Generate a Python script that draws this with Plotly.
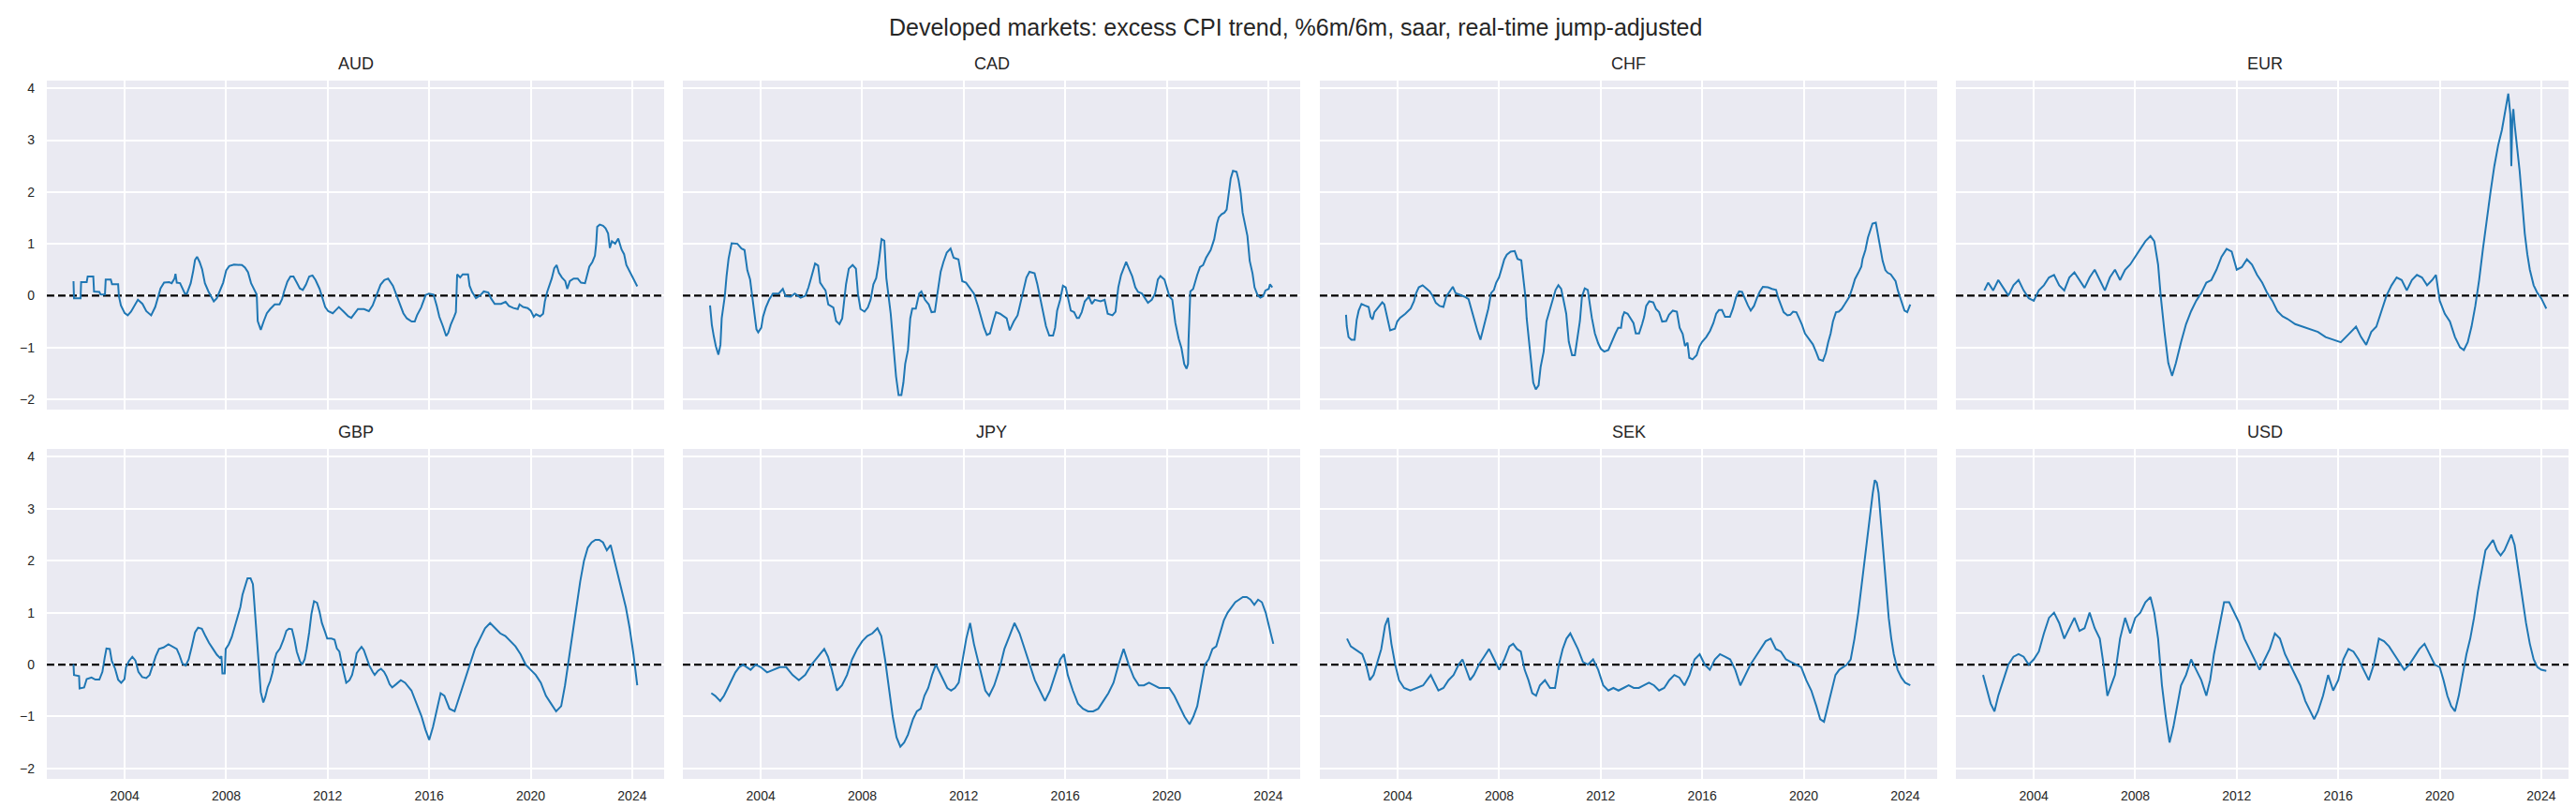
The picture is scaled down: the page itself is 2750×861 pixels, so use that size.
import numpy as np
import pandas as pd
import plotly.graph_objects as go

TITLE = "Developed markets: excess CPI trend, %6m/6m, saar, real-time jump-adjusted"
CURRENCIES = ["AUD", "CAD", "CHF", "EUR", "GBP", "JPY", "SEK", "USD"]

AUD_t = [2001.98, 2002.0, 2002.26, 2002.28, 2002.5, 2002.54, 2002.76, 2002.79, 2003.0, 2003.05, 2003.22, 2003.25, 2003.45, 2003.5, 2003.74, 2003.77,
         2003.85, 2004.0, 2004.12, 2004.25, 2004.52, 2004.7, 2004.85, 2005.04, 2005.2, 2005.33, 2005.41, 2005.55, 2005.75, 2005.85, 2005.96, 2006.0, 2006.05,
         2006.18, 2006.37, 2006.45, 2006.6, 2006.7, 2006.77, 2006.85, 2006.95, 2007.05, 2007.16, 2007.3, 2007.4, 2007.51, 2007.63, 2007.75, 2007.88,
         2008.0, 2008.12, 2008.31, 2008.5, 2008.62, 2008.74, 2008.86, 2008.98, 2009.08, 2009.2, 2009.24, 2009.36, 2009.48, 2009.6, 2009.73, 2009.91,
         2010.1, 2010.2, 2010.28, 2010.41, 2010.53, 2010.65, 2010.78, 2010.9, 2011.02, 2011.14, 2011.27, 2011.4, 2011.52, 2011.68, 2011.77, 2011.9,
         2012.02, 2012.2, 2012.32, 2012.44, 2012.63, 2012.81, 2012.93, 2013.05, 2013.19, 2013.43, 2013.62, 2013.77, 2013.93, 2014.08, 2014.23, 2014.38,
         2014.57, 2014.69, 2014.81, 2014.98, 2015.12, 2015.31, 2015.43, 2015.52, 2015.68, 2015.86, 2015.99, 2016.17, 2016.3, 2016.4, 2016.54, 2016.67,
         2016.75, 2016.85, 2016.98, 2017.05, 2017.1, 2017.22, 2017.32, 2017.53, 2017.59, 2017.69, 2017.84, 2018.02, 2018.15, 2018.33, 2018.43, 2018.58,
         2018.83, 2019.01, 2019.14, 2019.32, 2019.49, 2019.56, 2019.7, 2019.88, 2020.0, 2020.12, 2020.21, 2020.37, 2020.49, 2020.56, 2020.65, 2020.74,
         2020.83, 2020.93, 2021.02, 2021.11, 2021.23, 2021.36, 2021.44, 2021.54, 2021.69, 2021.85, 2021.98, 2022.14, 2022.22, 2022.31, 2022.43, 2022.53,
         2022.58, 2022.62, 2022.72, 2022.85, 2022.95, 2023.05, 2023.12, 2023.2, 2023.33, 2023.45, 2023.58, 2023.68, 2023.77, 2023.86, 2023.95, 2024.08, 2024.2]
AUD_v = [0.28, -0.05, -0.05, 0.26, 0.26, 0.37, 0.37, 0.08, 0.07, 0.02, 0.02, 0.31, 0.31, 0.22, 0.22, -0.01,
         -0.19, -0.34, -0.38, -0.31, -0.08, -0.16, -0.3, -0.38, -0.22, -0.01, 0.14, 0.25, 0.26, 0.24, 0.33, 0.42, 0.25,
         0.24, 0.04, 0.04, 0.24, 0.48, 0.69, 0.75, 0.65, 0.51, 0.24, 0.08, -0.02, -0.11, -0.05, 0.08, 0.25,
         0.49, 0.57, 0.6, 0.59, 0.59, 0.54, 0.45, 0.24, 0.14, 0.02, -0.49, -0.66, -0.49, -0.34, -0.26, -0.17,
         -0.17, -0.07, 0.08, 0.27, 0.37, 0.37, 0.25, 0.14, 0.11, 0.21, 0.37, 0.39, 0.3, 0.13, -0.01, -0.22,
         -0.3, -0.34, -0.28, -0.22, -0.31, -0.4, -0.43, -0.34, -0.26, -0.26, -0.3, -0.19, 0.02, 0.21, 0.3, 0.33,
         0.19, 0.04, -0.11, -0.34, -0.44, -0.5, -0.5, -0.38, -0.23, 0.01, 0.04, 0.02, -0.2, -0.41, -0.59, -0.78,
         -0.72, -0.56, -0.41, -0.32, 0.41, 0.35, 0.41, 0.41, 0.19, 0.07, -0.05, 0.01, 0.08, 0.06, -0.05, -0.16,
         -0.16, -0.12, -0.2, -0.24, -0.26, -0.17, -0.22, -0.24, -0.29, -0.41, -0.36, -0.4, -0.35, -0.11, 0.07, 0.19,
         0.33, 0.53, 0.59, 0.44, 0.35, 0.28, 0.13, 0.28, 0.33, 0.33, 0.25, 0.24, 0.38, 0.56, 0.65, 0.77,
         1.0, 1.33, 1.37, 1.35, 1.3, 1.2, 0.92, 1.05, 1.0, 1.1, 0.89, 0.8, 0.59, 0.5, 0.41, 0.3, 0.18]

CAD_t = [2002.0, 2002.07, 2002.15, 2002.23, 2002.33, 2002.41, 2002.46, 2002.58, 2002.65, 2002.73, 2002.85, 2003.08, 2003.24, 2003.36, 2003.47,
         2003.58, 2003.66, 2003.74, 2003.83, 2003.9, 2004.02, 2004.09, 2004.2, 2004.33, 2004.48, 2004.71, 2004.87, 2004.98, 2005.18, 2005.34, 2005.57,
         2005.76, 2005.88, 2006.0, 2006.14, 2006.26, 2006.34, 2006.46, 2006.55, 2006.66, 2006.86, 2006.97, 2007.1, 2007.21, 2007.36, 2007.47, 2007.62,
         2007.75, 2007.83, 2007.93, 2008.09, 2008.22, 2008.33, 2008.44, 2008.55, 2008.65, 2008.76, 2008.87, 2008.95, 2009.12, 2009.23, 2009.33, 2009.43,
         2009.54, 2009.62, 2009.69, 2009.8, 2009.89, 2009.97, 2010.11, 2010.24, 2010.33, 2010.47, 2010.62, 2010.73, 2010.86, 2010.98, 2011.09, 2011.2,
         2011.33, 2011.48, 2011.6, 2011.79, 2011.94, 2012.09, 2012.25, 2012.4, 2012.56, 2012.69, 2012.8, 2012.91, 2013.03, 2013.16, 2013.27, 2013.43,
         2013.58, 2013.69, 2013.81, 2013.97, 2014.12, 2014.23, 2014.36, 2014.47, 2014.59, 2014.79, 2014.9, 2015.0, 2015.13, 2015.24, 2015.37, 2015.52,
         2015.6, 2015.68, 2015.8, 2015.91, 2016.02, 2016.12, 2016.22, 2016.35, 2016.46, 2016.54, 2016.65, 2016.77, 2016.93, 2017.05, 2017.16, 2017.39,
         2017.55, 2017.67, 2017.86, 2017.98, 2018.09, 2018.2, 2018.33, 2018.4, 2018.51, 2018.64, 2018.76, 2018.87, 2019.02, 2019.18, 2019.26, 2019.41,
         2019.54, 2019.65, 2019.75, 2019.91, 2020.01, 2020.11, 2020.22, 2020.34, 2020.47, 2020.58, 2020.69, 2020.78, 2020.84, 2020.86, 2020.93, 2021.04,
         2021.2, 2021.31, 2021.43, 2021.55, 2021.73, 2021.87, 2021.98, 2022.05, 2022.16, 2022.27, 2022.36, 2022.44, 2022.52, 2022.61, 2022.75, 2022.83,
         2022.91, 2022.99, 2023.18, 2023.27, 2023.38, 2023.46, 2023.58, 2023.69, 2023.8, 2023.89, 2024.02, 2024.07, 2024.16]
CAD_v = [-0.19, -0.56, -0.79, -0.98, -1.14, -0.95, -0.44, -0.02, 0.37, 0.71, 1.01, 1.0, 0.91, 0.88, 0.49,
         0.31, 0.0, -0.32, -0.65, -0.71, -0.62, -0.41, -0.23, -0.08, 0.04, 0.04, 0.13, -0.01, -0.02, 0.04, -0.04,
         0.0, 0.16, 0.37, 0.62, 0.58, 0.25, 0.16, 0.1, -0.17, -0.23, -0.49, -0.55, -0.44, 0.22, 0.52, 0.59,
         0.52, 0.04, -0.26, -0.31, -0.23, -0.08, 0.22, 0.34, 0.64, 1.09, 1.06, 0.34, -0.35, -0.95, -1.56, -1.92,
         -1.92, -1.68, -1.32, -1.05, -0.44, -0.25, -0.25, 0.04, 0.08, -0.08, -0.17, -0.32, -0.31, 0.1, 0.46, 0.65,
         0.83, 0.91, 0.73, 0.7, 0.28, 0.25, 0.13, 0.04, -0.2, -0.44, -0.62, -0.76, -0.73, -0.5, -0.32, -0.35,
         -0.41, -0.44, -0.67, -0.5, -0.38, -0.14, 0.16, 0.35, 0.46, 0.43, 0.22, -0.02, -0.35, -0.59, -0.77, -0.77,
         -0.62, -0.29, -0.08, 0.19, 0.16, -0.08, -0.29, -0.32, -0.43, -0.43, -0.32, -0.11, -0.02, -0.16, -0.08, -0.11,
         -0.08, -0.35, -0.38, -0.31, 0.16, 0.4, 0.58, 0.65, 0.52, 0.37, 0.16, 0.07, 0.04, -0.08, -0.14, -0.08,
         0.04, 0.31, 0.38, 0.31, 0.16, -0.02, -0.08, -0.53, -0.83, -1.01, -1.32, -1.41, -1.32, -0.86, 0.08, 0.13,
         0.4, 0.55, 0.59, 0.73, 0.88, 1.09, 1.39, 1.51, 1.57, 1.6, 1.66, 2.02, 2.26, 2.41, 2.39, 2.23,
         1.99, 1.6, 1.15, 0.67, 0.43, 0.16, 0.01, -0.04, -0.01, 0.1, 0.13, 0.22, 0.16, 0.01]

CHF_t = [2001.96, 2001.99, 2002.06, 2002.17, 2002.3, 2002.38, 2002.46, 2002.57, 2002.7, 2002.85, 2002.93, 2003.01, 2003.08, 2003.23, 2003.39, 2003.47,
         2003.58, 2003.7, 2003.89, 2003.98, 2004.09, 2004.3, 2004.51, 2004.64, 2004.72, 2004.83, 2004.98, 2005.14, 2005.26, 2005.39, 2005.5, 2005.65,
         2005.8, 2005.91, 2006.04, 2006.17, 2006.28, 2006.43, 2006.63, 2006.79, 2006.9, 2007.01, 2007.14, 2007.26, 2007.37, 2007.45, 2007.57, 2007.68,
         2007.79, 2007.88, 2007.99, 2008.1, 2008.2, 2008.3, 2008.45, 2008.61, 2008.72, 2008.87, 2008.95, 2009.03, 2009.08, 2009.16, 2009.26, 2009.34,
         2009.44, 2009.55, 2009.63, 2009.75, 2009.86, 2009.97, 2010.1, 2010.22, 2010.33, 2010.44, 2010.53, 2010.64, 2010.74, 2010.87, 2010.98, 2011.1,
         2011.18, 2011.26, 2011.37, 2011.49, 2011.57, 2011.65, 2011.77, 2011.9, 2012.01, 2012.14, 2012.3, 2012.45, 2012.58, 2012.69, 2012.8, 2012.86,
         2012.93, 2013.06, 2013.18, 2013.29, 2013.38, 2013.51, 2013.63, 2013.71, 2013.79, 2013.91, 2014.07, 2014.18, 2014.3, 2014.42, 2014.58, 2014.69,
         2014.84, 2015.0, 2015.11, 2015.23, 2015.32, 2015.42, 2015.49, 2015.62, 2015.78, 2015.89, 2016.0, 2016.16, 2016.31, 2016.44, 2016.55, 2016.66,
         2016.78, 2016.9, 2017.09, 2017.21, 2017.34, 2017.45, 2017.57, 2017.69, 2017.8, 2017.91, 2018.04, 2018.16, 2018.27, 2018.39, 2018.59, 2018.75,
         2018.91, 2019.0, 2019.1, 2019.21, 2019.36, 2019.47, 2019.58, 2019.71, 2019.82, 2019.93, 2020.05, 2020.2, 2020.36, 2020.49, 2020.6, 2020.76,
         2020.87, 2020.96, 2021.06, 2021.15, 2021.27, 2021.38, 2021.49, 2021.61, 2021.8, 2021.91, 2022.02, 2022.15, 2022.27, 2022.32, 2022.43, 2022.53,
         2022.64, 2022.71, 2022.84, 2022.92, 2023.03, 2023.11, 2023.22, 2023.31, 2023.43, 2023.62, 2023.71, 2023.79, 2023.86, 2023.97, 2024.08, 2024.2]
CHF_v = [-0.37, -0.59, -0.8, -0.85, -0.85, -0.47, -0.29, -0.16, -0.19, -0.22, -0.41, -0.46, -0.32, -0.22, -0.13, -0.17,
         -0.43, -0.67, -0.64, -0.5, -0.43, -0.35, -0.25, -0.11, 0.04, 0.16, 0.2, 0.14, 0.08, -0.02, -0.14, -0.2,
         -0.22, -0.02, 0.07, 0.17, 0.05, 0.02, -0.02, -0.07, -0.26, -0.47, -0.68, -0.85, -0.65, -0.5, -0.25, 0.05,
         0.11, 0.25, 0.35, 0.53, 0.7, 0.79, 0.85, 0.86, 0.71, 0.68, 0.37, -0.02, -0.44, -0.85, -1.23, -1.68,
         -1.81, -1.73, -1.38, -1.08, -0.5, -0.32, -0.08, 0.11, 0.2, 0.13, -0.08, -0.35, -0.89, -1.15, -1.15, -0.74,
         -0.49, -0.02, 0.14, 0.11, -0.2, -0.43, -0.73, -0.92, -1.03, -1.08, -1.05, -0.86, -0.73, -0.62, -0.62, -0.41,
         -0.32, -0.35, -0.44, -0.53, -0.73, -0.73, -0.55, -0.41, -0.2, -0.11, -0.13, -0.26, -0.32, -0.5, -0.49, -0.37,
         -0.29, -0.31, -0.62, -0.74, -0.97, -0.91, -1.2, -1.23, -1.15, -0.98, -0.89, -0.8, -0.68, -0.53, -0.35, -0.28,
         -0.28, -0.41, -0.41, -0.25, -0.02, 0.08, 0.07, -0.08, -0.19, -0.29, -0.2, -0.04, 0.08, 0.17, 0.16, 0.13,
         0.11, -0.05, -0.19, -0.32, -0.38, -0.37, -0.31, -0.32, -0.44, -0.56, -0.73, -0.83, -0.94, -1.09, -1.23, -1.26,
         -1.11, -0.91, -0.73, -0.5, -0.32, -0.31, -0.26, -0.17, -0.02, 0.14, 0.32, 0.44, 0.56, 0.71, 0.88, 1.12,
         1.3, 1.39, 1.41, 1.18, 0.88, 0.67, 0.49, 0.44, 0.41, 0.28, 0.1, -0.02, -0.16, -0.29, -0.32, -0.17]

EUR_t = [2002.05, 2002.2, 2002.4, 2002.6, 2002.8, 2003.0, 2003.2, 2003.4, 2003.6, 2003.8, 2004.0, 2004.2, 2004.4, 2004.6, 2004.8, 2005.0, 2005.2,
         2005.4, 2005.6, 2005.8, 2006.0, 2006.2, 2006.4, 2006.6, 2006.8, 2007.0, 2007.2, 2007.4, 2007.6, 2007.8, 2008.0, 2008.2, 2008.4, 2008.6,
         2008.75, 2008.9, 2009.0, 2009.15, 2009.3, 2009.45, 2009.6, 2009.8, 2010.0, 2010.2, 2010.4, 2010.6, 2010.8, 2011.0, 2011.2, 2011.4, 2011.6,
         2011.8, 2012.0, 2012.2, 2012.4, 2012.6, 2012.8, 2013.0, 2013.2, 2013.4, 2013.6, 2013.8, 2014.0, 2014.3, 2014.6, 2014.9, 2015.2, 2015.5,
         2015.8, 2016.1, 2016.4, 2016.7, 2016.9, 2017.1, 2017.3, 2017.5, 2017.7, 2017.9, 2018.1, 2018.3, 2018.5, 2018.7, 2018.9, 2019.1, 2019.3,
         2019.5, 2019.7, 2019.85, 2020.0, 2020.2, 2020.4, 2020.6, 2020.8, 2020.95, 2021.1, 2021.25, 2021.4, 2021.55, 2021.7, 2021.85, 2022.0, 2022.15,
         2022.3, 2022.45, 2022.6, 2022.7, 2022.78, 2022.82, 2022.86, 2022.9, 2022.95, 2023.05, 2023.15, 2023.25, 2023.35, 2023.45, 2023.55, 2023.7,
         2023.85, 2024.0, 2024.2]
EUR_v = [0.1, 0.25, 0.1, 0.3, 0.15, 0.0, 0.2, 0.3, 0.1, -0.05, -0.1, 0.1, 0.2, 0.35, 0.4, 0.2, 0.1,
         0.35, 0.45, 0.3, 0.15, 0.35, 0.5, 0.3, 0.1, 0.35, 0.5, 0.3, 0.5, 0.6, 0.75, 0.9, 1.05, 1.15,
         1.05, 0.6, 0.0, -0.7, -1.3, -1.55, -1.3, -0.9, -0.55, -0.3, -0.1, 0.05, 0.25, 0.3, 0.5, 0.75, 0.9,
         0.85, 0.5, 0.55, 0.7, 0.6, 0.4, 0.25, 0.05, -0.1, -0.3, -0.4, -0.45, -0.55, -0.6, -0.65, -0.7, -0.8,
         -0.85, -0.9, -0.75, -0.6, -0.8, -0.95, -0.7, -0.6, -0.3, 0.0, 0.2, 0.35, 0.3, 0.1, 0.3, 0.4, 0.35,
         0.2, 0.3, 0.4, -0.1, -0.35, -0.5, -0.8, -1.0, -1.05, -0.9, -0.6, -0.2, 0.3, 0.9, 1.5, 2.0, 2.5,
         2.9, 3.2, 3.6, 3.9, 3.5, 2.5, 3.4, 3.6, 3.3, 2.9, 2.4, 1.8, 1.2, 0.8, 0.5, 0.2,
         0.05, -0.05, -0.25]

GBP_t = [2001.98, 2002.0, 2002.2, 2002.22, 2002.4, 2002.5, 2002.69, 2002.84, 2003.0, 2003.12, 2003.21, 2003.28, 2003.41, 2003.49, 2003.62, 2003.74,
         2003.86, 2003.99, 2004.05, 2004.17, 2004.3, 2004.42, 2004.54, 2004.69, 2004.85, 2004.98, 2005.1, 2005.22, 2005.35, 2005.53, 2005.72, 2005.9,
         2006.05, 2006.15, 2006.27, 2006.4, 2006.52, 2006.64, 2006.77, 2006.89, 2007.04, 2007.16, 2007.32, 2007.48, 2007.63, 2007.75, 2007.81, 2007.85,
         2007.94, 2007.98, 2008.1, 2008.22, 2008.35, 2008.47, 2008.56, 2008.64, 2008.74, 2008.84, 2008.96, 2009.05, 2009.11, 2009.17, 2009.23, 2009.3,
         2009.36, 2009.46, 2009.54, 2009.63, 2009.73, 2009.83, 2009.91, 2009.98, 2010.12, 2010.25, 2010.37, 2010.47, 2010.59, 2010.69, 2010.78, 2010.9,
         2010.99, 2011.09, 2011.17, 2011.27, 2011.36, 2011.46, 2011.58, 2011.68, 2011.77, 2011.9, 2011.98, 2012.15, 2012.27, 2012.36, 2012.46, 2012.56,
         2012.64, 2012.73, 2012.86, 2012.96, 2013.06, 2013.14, 2013.23, 2013.33, 2013.42, 2013.55, 2013.64, 2013.77, 2013.85, 2013.98, 2014.1, 2014.22,
         2014.32, 2014.44, 2014.54, 2014.69, 2014.88, 2015.05, 2015.3, 2015.5, 2015.7, 2015.85, 2016.0, 2016.15, 2016.3, 2016.45, 2016.6, 2016.8,
         2017.0, 2017.2, 2017.4, 2017.6, 2017.8, 2018.0, 2018.2, 2018.4, 2018.6, 2018.8, 2019.0, 2019.2, 2019.4, 2019.6, 2019.8, 2020.0, 2020.2,
         2020.4, 2020.6, 2020.8, 2021.0, 2021.2, 2021.35, 2021.5, 2021.65, 2021.8, 2021.95, 2022.1, 2022.25, 2022.4, 2022.55, 2022.7, 2022.85,
         2023.0, 2023.15, 2023.3, 2023.45, 2023.6, 2023.75, 2023.9, 2024.05, 2024.2]
GBP_v = [0.01, -0.2, -0.22, -0.46, -0.44, -0.28, -0.25, -0.29, -0.29, -0.14, 0.13, 0.31, 0.3, 0.07, -0.08, -0.29,
         -0.35, -0.28, -0.05, 0.07, 0.15, 0.08, -0.14, -0.24, -0.26, -0.2, -0.02, 0.16, 0.3, 0.33, 0.39, 0.34,
         0.3, 0.19, 0.02, -0.02, 0.1, 0.34, 0.62, 0.71, 0.69, 0.57, 0.42, 0.3, 0.19, 0.13, 0.16, -0.17,
         -0.17, 0.3, 0.39, 0.53, 0.77, 0.94, 1.11, 1.34, 1.52, 1.66, 1.66, 1.55, 1.16, 0.71, 0.31, -0.2,
         -0.53, -0.73, -0.62, -0.44, -0.32, -0.14, 0.1, 0.22, 0.31, 0.47, 0.65, 0.69, 0.68, 0.48, 0.25, 0.07,
         0.0, 0.1, 0.3, 0.62, 0.98, 1.22, 1.19, 1.01, 0.8, 0.62, 0.5, 0.5, 0.48, 0.31, 0.25, 0.01,
         -0.17, -0.35, -0.3, -0.2, 0.01, 0.22, 0.28, 0.34, 0.28, 0.1, -0.02, -0.14, -0.2, -0.12, -0.08, -0.14,
         -0.23, -0.38, -0.44, -0.38, -0.3, -0.35, -0.5, -0.75, -1.0, -1.25, -1.45, -1.2, -0.9, -0.55, -0.6, -0.85,
         -0.9, -0.6, -0.3, 0.0, 0.3, 0.5, 0.7, 0.8, 0.7, 0.6, 0.55, 0.45, 0.35, 0.2, 0.0, -0.1, -0.2,
         -0.35, -0.6, -0.75, -0.9, -0.8, -0.4, 0.1, 0.6, 1.1, 1.6, 2.0, 2.25, 2.35, 2.4, 2.4, 2.35,
         2.2, 2.3, 2.0, 1.7, 1.4, 1.1, 0.7, 0.2, -0.4]

JPY_t = [2002.05, 2002.2, 2002.4, 2002.55, 2002.7, 2002.85, 2003.0, 2003.15, 2003.3, 2003.45, 2003.6, 2003.8, 2004.0, 2004.25, 2004.5, 2004.75,
         2005.0, 2005.25, 2005.5, 2005.75, 2006.0, 2006.25, 2006.5, 2006.65, 2006.8, 2007.0, 2007.2, 2007.4, 2007.6, 2007.8, 2008.0, 2008.2,
         2008.4, 2008.6, 2008.75, 2008.9, 2009.05, 2009.2, 2009.35, 2009.5, 2009.65, 2009.8, 2010.0, 2010.15, 2010.3, 2010.45, 2010.6, 2010.75,
         2010.9, 2011.05, 2011.2, 2011.35, 2011.5, 2011.65, 2011.8, 2011.95, 2012.1, 2012.25, 2012.4, 2012.55, 2012.7, 2012.85, 2013.0, 2013.2,
         2013.4, 2013.6, 2013.8, 2014.0, 2014.2, 2014.4, 2014.6, 2014.8, 2015.0, 2015.2, 2015.4, 2015.6, 2015.8, 2015.95, 2016.1, 2016.3, 2016.5,
         2016.7, 2016.9, 2017.1, 2017.3, 2017.5, 2017.7, 2017.9, 2018.1, 2018.3, 2018.5, 2018.7, 2018.9, 2019.1, 2019.3, 2019.5, 2019.7, 2019.9,
         2020.1, 2020.3, 2020.5, 2020.7, 2020.9, 2021.05, 2021.2, 2021.35, 2021.5, 2021.65, 2021.8, 2021.95, 2022.1, 2022.25, 2022.4, 2022.55,
         2022.7, 2022.85, 2023.0, 2023.15, 2023.3, 2023.45, 2023.6, 2023.75, 2023.9, 2024.05, 2024.2]
JPY_v = [-0.55, -0.6, -0.7, -0.6, -0.45, -0.3, -0.15, -0.05, 0.0, -0.05, -0.1, 0.0, -0.05, -0.15, -0.1, -0.05,
         -0.05, -0.2, -0.3, -0.2, 0.0, 0.15, 0.3, 0.15, -0.1, -0.5, -0.4, -0.2, 0.1, 0.3, 0.45, 0.55,
         0.6, 0.7, 0.55, 0.1, -0.5, -1.0, -1.4, -1.58, -1.5, -1.35, -1.05, -0.9, -0.85, -0.6, -0.45, -0.2,
         0.0, -0.15, -0.3, -0.45, -0.5, -0.45, -0.35, 0.1, 0.5, 0.8, 0.4, 0.1, -0.2, -0.5, -0.6, -0.4,
         -0.1, 0.3, 0.55, 0.8, 0.6, 0.3, 0.0, -0.3, -0.5, -0.7, -0.5, -0.2, 0.1, 0.2, -0.2, -0.5, -0.75,
         -0.85, -0.9, -0.9, -0.85, -0.7, -0.55, -0.35, 0.0, 0.3, 0.0, -0.25, -0.4, -0.4, -0.35, -0.4, -0.45, -0.45,
         -0.45, -0.6, -0.8, -1.0, -1.15, -1.0, -0.8, -0.4, 0.0, 0.1, 0.3, 0.35, 0.6, 0.85, 1.0, 1.1,
         1.2, 1.25, 1.3, 1.3, 1.25, 1.15, 1.25, 1.2, 1.0, 0.7, 0.4]

SEK_t = [2002.0, 2002.15, 2002.3, 2002.45, 2002.6, 2002.75, 2002.9, 2003.05, 2003.2, 2003.35, 2003.5, 2003.62, 2003.75, 2003.9, 2004.05, 2004.25,
         2004.5, 2004.75, 2005.0, 2005.15, 2005.3, 2005.45, 2005.6, 2005.8, 2006.0, 2006.2, 2006.4, 2006.55, 2006.7, 2006.85, 2007.0, 2007.2,
         2007.4, 2007.6, 2007.8, 2008.0, 2008.2, 2008.4, 2008.55, 2008.7, 2008.85, 2009.0, 2009.15, 2009.3, 2009.45, 2009.6, 2009.8, 2010.0,
         2010.2, 2010.35, 2010.5, 2010.65, 2010.8, 2010.95, 2011.1, 2011.3, 2011.5, 2011.7, 2011.9, 2012.1, 2012.3, 2012.5, 2012.7, 2012.9, 2013.1,
         2013.3, 2013.5, 2013.7, 2013.9, 2014.1, 2014.3, 2014.5, 2014.7, 2014.9, 2015.1, 2015.3, 2015.5, 2015.7, 2015.9, 2016.1, 2016.3, 2016.5,
         2016.7, 2016.9, 2017.1, 2017.3, 2017.5, 2017.7, 2017.9, 2018.1, 2018.3, 2018.5, 2018.7, 2018.9, 2019.1, 2019.3, 2019.5, 2019.7, 2019.9,
         2020.1, 2020.3, 2020.5, 2020.65, 2020.8, 2020.95, 2021.1, 2021.25, 2021.4, 2021.55, 2021.7, 2021.85, 2022.0, 2022.15, 2022.3, 2022.45,
         2022.6, 2022.72, 2022.8, 2022.88, 2022.95, 2023.05, 2023.15, 2023.25, 2023.35, 2023.45, 2023.55, 2023.7, 2023.85, 2024.0, 2024.2]
SEK_v = [0.5, 0.35, 0.3, 0.25, 0.2, 0.0, -0.3, -0.2, 0.05, 0.3, 0.75, 0.9, 0.4, 0.0, -0.3, -0.45,
         -0.5, -0.45, -0.4, -0.3, -0.2, -0.35, -0.5, -0.45, -0.3, -0.2, 0.0, 0.1, -0.1, -0.3, -0.2, 0.0,
         0.15, 0.3, 0.1, -0.1, 0.1, 0.35, 0.4, 0.3, 0.25, -0.1, -0.3, -0.55, -0.6, -0.4, -0.3, -0.45,
         -0.45, 0.0, 0.3, 0.5, 0.6, 0.45, 0.3, 0.05, 0.0, 0.1, -0.1, -0.4, -0.5, -0.45, -0.5, -0.45, -0.4,
         -0.45, -0.45, -0.4, -0.35, -0.4, -0.5, -0.45, -0.3, -0.2, -0.25, -0.4, -0.2, 0.1, 0.2, 0.0, -0.1, 0.1,
         0.2, 0.15, 0.1, -0.1, -0.4, -0.2, 0.0, 0.15, 0.3, 0.45, 0.5, 0.3, 0.25, 0.1, 0.05, 0.0, -0.05,
         -0.3, -0.5, -0.8, -1.05, -1.1, -0.8, -0.5, -0.2, -0.1, -0.05, 0.0, 0.1, 0.5, 1.0, 1.6, 2.2,
         2.9, 3.3, 3.55, 3.5, 3.3, 2.7, 2.0, 1.4, 0.9, 0.5, 0.2, -0.1, -0.25, -0.35, -0.4]

USD_t = [2002.0, 2002.15, 2002.3, 2002.45, 2002.6, 2002.8, 2003.0, 2003.2, 2003.4, 2003.6, 2003.8, 2004.0, 2004.2, 2004.4, 2004.6, 2004.8,
         2005.0, 2005.2, 2005.4, 2005.6, 2005.8, 2006.0, 2006.2, 2006.4, 2006.6, 2006.75, 2006.9, 2007.05, 2007.2, 2007.4, 2007.6, 2007.8,
         2008.0, 2008.2, 2008.4, 2008.6, 2008.75, 2008.9, 2009.05, 2009.2, 2009.35, 2009.5, 2009.65, 2009.8, 2010.0, 2010.2, 2010.4, 2010.6,
         2010.8, 2010.95, 2011.1, 2011.3, 2011.5, 2011.7, 2011.9, 2012.1, 2012.3, 2012.5, 2012.7, 2012.9, 2013.1, 2013.3, 2013.5, 2013.7,
         2013.9, 2014.1, 2014.3, 2014.5, 2014.7, 2014.9, 2015.05, 2015.2, 2015.4, 2015.6, 2015.8, 2016.0, 2016.2, 2016.4, 2016.6, 2016.8, 2017.0,
         2017.2, 2017.4, 2017.6, 2017.8, 2018.0, 2018.2, 2018.4, 2018.6, 2018.8, 2019.0, 2019.2, 2019.4, 2019.6, 2019.8, 2020.0, 2020.15, 2020.3,
         2020.45, 2020.6, 2020.75, 2020.9, 2021.05, 2021.2, 2021.35, 2021.5, 2021.65, 2021.8, 2021.95, 2022.1, 2022.25, 2022.4, 2022.55, 2022.7,
         2022.82, 2022.95, 2023.1, 2023.25, 2023.4, 2023.55, 2023.7, 2023.85, 2024.0, 2024.2]
USD_v = [-0.2, -0.5, -0.75, -0.9, -0.6, -0.3, 0.0, 0.15, 0.2, 0.15, 0.0, 0.1, 0.25, 0.6, 0.9, 1.0,
         0.8, 0.5, 0.7, 0.9, 0.65, 0.7, 1.0, 0.7, 0.5, 0.0, -0.6, -0.4, -0.2, 0.5, 0.9, 0.6,
         0.9, 1.0, 1.2, 1.3, 1.0, 0.5, -0.4, -1.0, -1.5, -1.2, -0.8, -0.4, -0.2, 0.1, -0.1, -0.3,
         -0.6, -0.3, 0.2, 0.7, 1.2, 1.2, 1.0, 0.8, 0.5, 0.3, 0.1, -0.1, 0.1, 0.3, 0.6, 0.5,
         0.2, 0.0, -0.2, -0.4, -0.7, -0.9, -1.05, -0.9, -0.6, -0.2, -0.5, -0.3, 0.1, 0.3, 0.25, 0.1, -0.1,
         -0.3, 0.0, 0.5, 0.45, 0.35, 0.2, 0.05, -0.1, 0.0, 0.15, 0.3, 0.4, 0.2, 0.0, -0.05, -0.3, -0.6,
         -0.8, -0.9, -0.6, -0.2, 0.2, 0.5, 0.9, 1.4, 1.8, 2.2, 2.3, 2.4, 2.2, 2.1, 2.2, 2.35,
         2.5, 2.3, 1.8, 1.3, 0.8, 0.4, 0.1, -0.05, -0.1, -0.12]

SERIES = {"AUD": (AUD_t, AUD_v), "CAD": (CAD_t, CAD_v), "CHF": (CHF_t, CHF_v), "EUR": (EUR_t, EUR_v),
          "GBP": (GBP_t, GBP_v), "JPY": (JPY_t, JPY_v), "SEK": (SEK_t, SEK_v), "USD": (USD_t, USD_v)}

Y_TICKS = [-2, -1, 0, 1, 2, 3, 4]
X_TICK_YEARS = [2004, 2008, 2012, 2016, 2020, 2024]


def to_dates(years):
    out = []
    for y in years:
        yi = int(np.floor(y))
        frac = y - yi
        out.append(pd.Timestamp(yi, 1, 1) + pd.Timedelta(days=frac * 365.25))
    return out


W, H = 2750, 861
col_px = [(42, 701), (721, 1380), (1401, 2060), (2080, 2739)]
row_px = [(78, 429), (471, 823)]

fig = go.Figure()
x_range = [pd.Timestamp(2000, 12, 6), pd.Timestamp(2025, 4, 5)]
tick_vals = [pd.Timestamp(y, 1, 1) for y in X_TICK_YEARS]
FONT = "Liberation Sans, Arial, DejaVu Sans, sans-serif"
TXT = "#262626"

annotations = []
for i, cur in enumerate(CURRENCIES):
    r, c = divmod(i, 4)
    n = i + 1
    xa = "x" if n == 1 else f"x{n}"
    ya = "y" if n == 1 else f"y{n}"
    t, v = SERIES[cur]
    fig.add_trace(go.Scatter(x=x_range, y=[0, 0], mode="lines", line=dict(color="black", width=2.3, dash="8px,4px"),
                             xaxis=xa, yaxis=ya, showlegend=False, hoverinfo="skip"))
    fig.add_trace(go.Scatter(x=to_dates(t), y=v, mode="lines", line=dict(color="#1f77b4", width=2.0),
                             xaxis=xa, yaxis=ya, showlegend=False))
    x0, x1 = col_px[c]
    y0, y1 = row_px[r]
    dom_x = [x0 / W, x1 / W]
    dom_y = [1 - y1 / H, 1 - y0 / H]
    fig.layout[("xaxis" if n == 1 else f"xaxis{n}")] = dict(
        domain=dom_x, anchor=ya, type="date", range=x_range, tickvals=tick_vals,
        ticktext=[str(y) for y in X_TICK_YEARS], showticklabels=(r == 1), showgrid=True,
        gridcolor="white", gridwidth=1.5, zeroline=False, showline=False, ticks="",
        ticklabelstandoff=8, tickfont=dict(size=14, color=TXT, family=FONT))
    fig.layout[("yaxis" if n == 1 else f"yaxis{n}")] = dict(
        domain=dom_y, anchor=xa, range=[-2.2, 4.15], tickvals=Y_TICKS,
        ticktext=[("\u2212" + str(-k)) if k < 0 else str(k) for k in Y_TICKS],
        showticklabels=(c == 0), showgrid=True, gridcolor="white", gridwidth=1.5,
        zeroline=False, showline=False, ticks="", ticklabelstandoff=12,
        tickfont=dict(size=14, color=TXT, family=FONT))
    annotations.append(dict(text=cur, x=(dom_x[0] + dom_x[1]) / 2, y=1 - (y0 - 6) / H, xref="paper", yref="paper",
                            xanchor="center", yanchor="bottom", showarrow=False,
                            font=dict(size=18, color=TXT, family=FONT)))

annotations.append(dict(text=TITLE, x=0.5, y=1 - 5 / H, xref="paper", yref="paper", xanchor="center", yanchor="top",
                        showarrow=False, font=dict(size=25, color=TXT, family=FONT)))

fig.update_layout(width=W, height=H, margin=dict(l=0, r=0, t=0, b=0), paper_bgcolor="white",
                  plot_bgcolor="#EAEAF2", annotations=annotations, font=dict(family=FONT, color=TXT))
fig.write_html("out.html")
